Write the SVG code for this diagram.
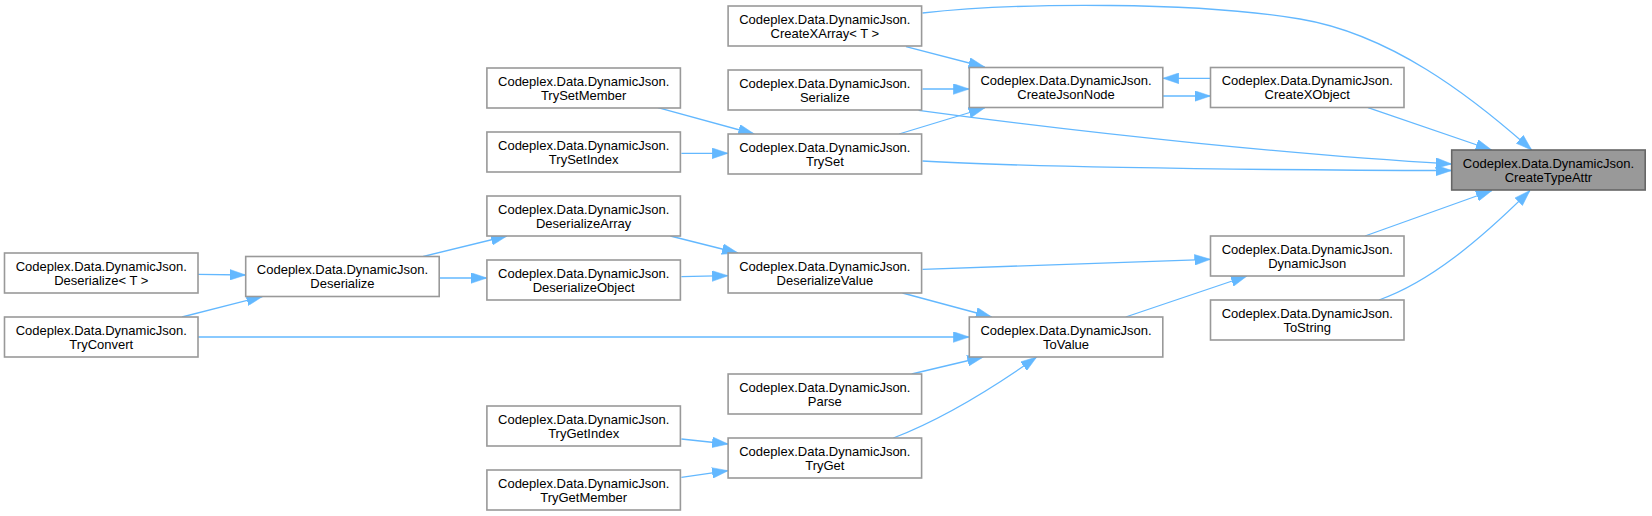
<svg xmlns="http://www.w3.org/2000/svg" width="1652" height="516" viewBox="0 0 1652 516">
<style>
.n rect{fill:#ffffff;stroke:#999999;stroke-width:1.6}
.root rect{fill:#999999;stroke:#666666;stroke-width:1.6}
text{font-family:"Liberation Sans",Arial,sans-serif;font-size:13px;fill:#000000;text-anchor:middle}
.e path{fill:none;stroke:#63b8ff;stroke-width:1.3;marker-end:url(#ah)}
</style>
<defs>
<marker id="ah" markerUnits="userSpaceOnUse" markerWidth="16" markerHeight="11" viewBox="0 0 15 10" refX="15" refY="5" orient="auto">
<path d="M0,0 L15,5 L0,10 z" fill="#63b8ff" stroke="#63b8ff" stroke-width="0.5"/>
</marker>
</defs>
<rect width="1652" height="516" fill="#ffffff"/>
<g id="edges" class="e">
<path d="M922.5,13 C1020,2 1200,2 1300,19 C1390,34 1470,95 1531.7,150"/>
<path d="M906,46.7 L984.6,67"/>
<path d="M922.5,89 L969.3,89"/>
<path d="M918.6,110.3 C1100,135 1300,155 1451.7,164"/>
<path d="M899,134 L984.6,108"/>
<path d="M922.5,161 C1000,166 1200,170 1451.7,170.5"/>
<path d="M657.9,107.7 L754.3,134"/>
<path d="M681.4,153.3 L728.1,153.3"/>
<path d="M1210.5,78.3 L1162.8,78.3"/>
<path d="M1162.8,96 L1210.5,96"/>
<path d="M1368,107.7 L1491.7,150"/>
<path d="M1365,236 L1492,190.5"/>
<path d="M1379,300 C1430,282 1480,240 1530,190.5"/>
<path d="M922.5,269.3 L1210.5,259.3"/>
<path d="M1125.7,317 L1247,276"/>
<path d="M670.4,236 L738,253"/>
<path d="M681.4,276.7 L728.1,275.7"/>
<path d="M902.5,293 L991.7,317"/>
<path d="M198,337 L969.3,337"/>
<path d="M911.7,374 L983.3,357"/>
<path d="M893.3,438 C940,420 990,390 1036.7,357"/>
<path d="M681.4,439 L728.1,444"/>
<path d="M681.4,477.3 L728.1,470.7"/>
<path d="M198,274.3 L245.7,275"/>
<path d="M182,317 L262.5,296.5"/>
<path d="M423.2,256.5 L507,236"/>
<path d="M439.2,278 L486.9,278"/>
</g>
<g id="CreateTypeAttr" class="root"><rect x="1451.7" y="150" width="193.5" height="40"/><text x="1548.45" y="167.5">Codeplex.Data.DynamicJson.</text><text x="1548.45" y="181.5">CreateTypeAttr</text></g>
<g id="CreateXArray" class="n"><rect x="728.1" y="6" width="193.5" height="40"/><text x="824.85" y="23.5">Codeplex.Data.DynamicJson.</text><text x="824.85" y="37.5">CreateXArray&lt; T &gt;</text></g>
<g id="Serialize" class="n"><rect x="728.1" y="70" width="193.5" height="40"/><text x="824.85" y="87.5">Codeplex.Data.DynamicJson.</text><text x="824.85" y="101.5">Serialize</text></g>
<g id="TrySet" class="n"><rect x="728.1" y="134" width="193.5" height="40"/><text x="824.85" y="151.5">Codeplex.Data.DynamicJson.</text><text x="824.85" y="165.5">TrySet</text></g>
<g id="DeserializeValue" class="n"><rect x="728.1" y="253" width="193.5" height="40"/><text x="824.85" y="270.5">Codeplex.Data.DynamicJson.</text><text x="824.85" y="284.5">DeserializeValue</text></g>
<g id="Parse" class="n"><rect x="728.1" y="374" width="193.5" height="40"/><text x="824.85" y="391.5">Codeplex.Data.DynamicJson.</text><text x="824.85" y="405.5">Parse</text></g>
<g id="TryGet" class="n"><rect x="728.1" y="438" width="193.5" height="40"/><text x="824.85" y="455.5">Codeplex.Data.DynamicJson.</text><text x="824.85" y="469.5">TryGet</text></g>
<g id="CreateJsonNode" class="n"><rect x="969.3" y="67.5" width="193.5" height="40"/><text x="1066.05" y="85">Codeplex.Data.DynamicJson.</text><text x="1066.05" y="99">CreateJsonNode</text></g>
<g id="ToValue" class="n"><rect x="969.3" y="317" width="193.5" height="40"/><text x="1066.05" y="334.5">Codeplex.Data.DynamicJson.</text><text x="1066.05" y="348.5">ToValue</text></g>
<g id="CreateXObject" class="n"><rect x="1210.5" y="67.5" width="193.5" height="40"/><text x="1307.25" y="85">Codeplex.Data.DynamicJson.</text><text x="1307.25" y="99">CreateXObject</text></g>
<g id="DynamicJson" class="n"><rect x="1210.5" y="236" width="193.5" height="40"/><text x="1307.25" y="253.5">Codeplex.Data.DynamicJson.</text><text x="1307.25" y="267.5">DynamicJson</text></g>
<g id="ToString" class="n"><rect x="1210.5" y="300" width="193.5" height="40"/><text x="1307.25" y="317.5">Codeplex.Data.DynamicJson.</text><text x="1307.25" y="331.5">ToString</text></g>
<g id="TrySetMember" class="n"><rect x="486.9" y="68" width="193.5" height="40"/><text x="583.65" y="85.5">Codeplex.Data.DynamicJson.</text><text x="583.65" y="99.5">TrySetMember</text></g>
<g id="TrySetIndex" class="n"><rect x="486.9" y="132" width="193.5" height="40"/><text x="583.65" y="149.5">Codeplex.Data.DynamicJson.</text><text x="583.65" y="163.5">TrySetIndex</text></g>
<g id="DeserializeArray" class="n"><rect x="486.9" y="196" width="193.5" height="40"/><text x="583.65" y="213.5">Codeplex.Data.DynamicJson.</text><text x="583.65" y="227.5">DeserializeArray</text></g>
<g id="DeserializeObject" class="n"><rect x="486.9" y="260" width="193.5" height="40"/><text x="583.65" y="277.5">Codeplex.Data.DynamicJson.</text><text x="583.65" y="291.5">DeserializeObject</text></g>
<g id="TryGetIndex" class="n"><rect x="486.9" y="406" width="193.5" height="40"/><text x="583.65" y="423.5">Codeplex.Data.DynamicJson.</text><text x="583.65" y="437.5">TryGetIndex</text></g>
<g id="TryGetMember" class="n"><rect x="486.9" y="470" width="193.5" height="40"/><text x="583.65" y="487.5">Codeplex.Data.DynamicJson.</text><text x="583.65" y="501.5">TryGetMember</text></g>
<g id="Deserialize" class="n"><rect x="245.7" y="256.5" width="193.5" height="40"/><text x="342.45" y="274">Codeplex.Data.DynamicJson.</text><text x="342.45" y="288">Deserialize</text></g>
<g id="DeserializeT" class="n"><rect x="4.5" y="253" width="193.5" height="40"/><text x="101.25" y="270.5">Codeplex.Data.DynamicJson.</text><text x="101.25" y="284.5">Deserialize&lt; T &gt;</text></g>
<g id="TryConvert" class="n"><rect x="4.5" y="317" width="193.5" height="40"/><text x="101.25" y="334.5">Codeplex.Data.DynamicJson.</text><text x="101.25" y="348.5">TryConvert</text></g>
</svg>
